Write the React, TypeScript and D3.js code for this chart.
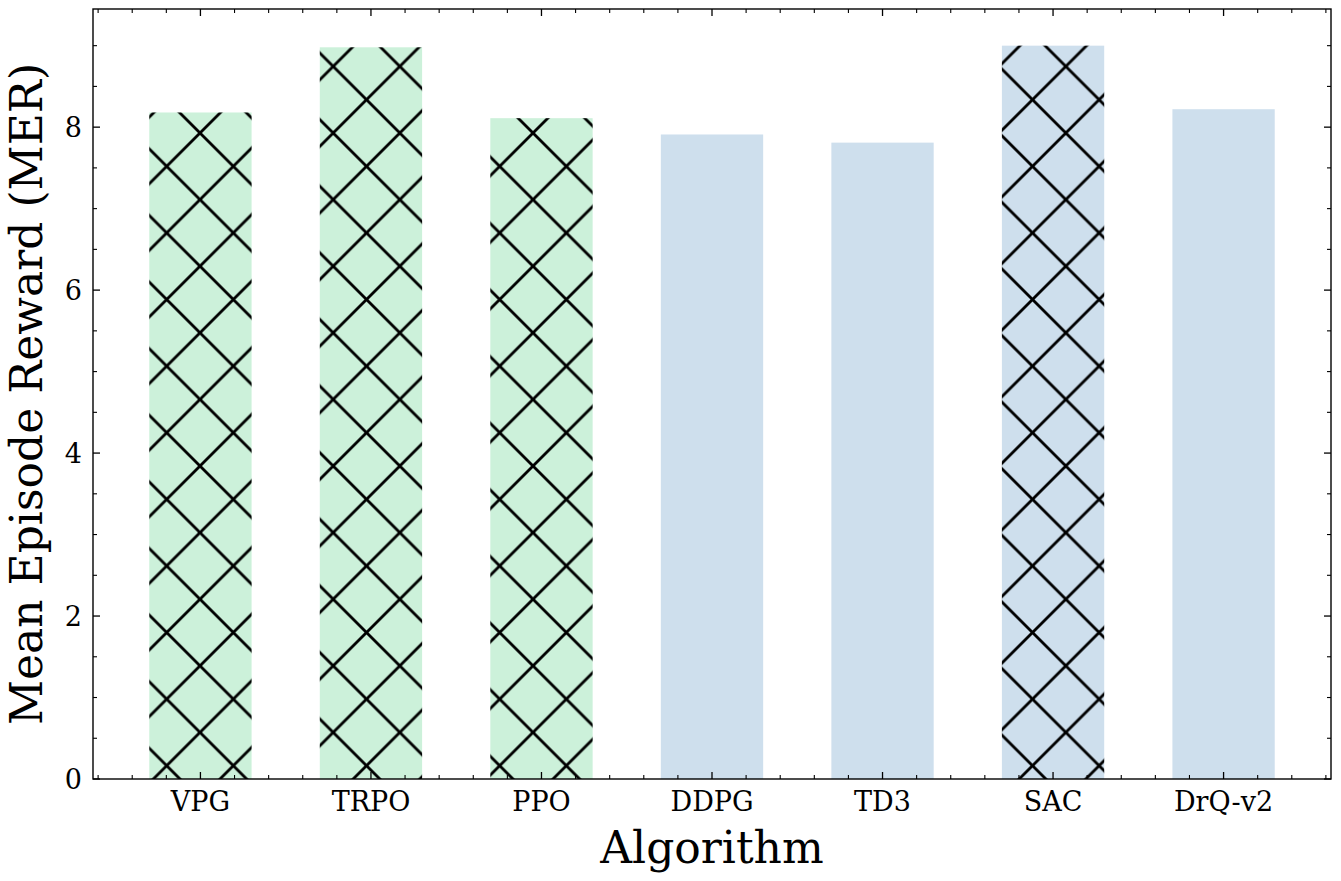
import React from "react";
import * as d3 from "d3";

const algorithms = ["VPG", "TRPO", "PPO", "DDPG", "TD3", "SAC", "DrQ-v2"];
const meanRewards = [8.18, 8.98, 8.11, 7.91, 7.81, 9.0, 8.22];
const policyType = ["on", "on", "on", "off", "off", "off", "off"];
const hatched = [true, true, true, false, false, true, false];
const yTicks = [0, 2, 4, 6, 8];

const W = 1341;
const H = 881;
const margin = { left: 93, right: 10, top: 9, bottom: 102 };
const BAR_W = 0.6;
const HATCH = 66.6;

const colors: Record<string, string> = { on: "#CCF1DA", off: "#CEDFED" };

const App: React.FC = () => {
  const x = d3
    .scaleLinear()
    .domain([-0.3 - 0.33, algorithms.length - 1 + 0.3 + 0.33])
    .range([margin.left, W - margin.right]);
  const y = d3
    .scaleLinear()
    .domain([0, 9.45])
    .range([H - margin.bottom, margin.top]);

  const [x0, x1] = x.range();
  const [yb, yt] = y.range();

  // minor ticks every 0.2 on x, every 0.5 on y (skip majors)
  const xMinor = d3
    .range(-3, Math.floor(x.domain()[1] * 5) + 1)
    .map((k) => k / 5)
    .filter((v) => Math.abs(v - Math.round(v)) > 1e-6);
  const yMinor = d3
    .range(0, 19)
    .map((k) => k / 2)
    .filter((v) => v % 2 !== 0);

  const font = "DejaVu Serif";
  const maj = 7;
  const min = 4;

  return (
    <svg
      width={W}
      height={H}
      style={{ position: "absolute", left: 0, top: 0, background: "#fff" }}
    >
      <defs>
        <pattern
          id="xhatch"
          patternUnits="userSpaceOnUse"
          x={200}
          y={133}
          width={HATCH}
          height={HATCH}
        >
          {[-1, 0, 1].map((k) => (
            <g key={k}>
              <line
                x1={-HATCH}
                y1={-HATCH + k * HATCH}
                x2={2 * HATCH}
                y2={2 * HATCH + k * HATCH}
                stroke="#000"
                strokeWidth={2.8}
              />
              <line
                x1={-HATCH}
                y1={2 * HATCH + k * HATCH}
                x2={2 * HATCH}
                y2={-HATCH + k * HATCH}
                stroke="#000"
                strokeWidth={2.8}
              />
            </g>
          ))}
        </pattern>
      </defs>

      {/* bars */}
      {algorithms.map((a, i) => {
        const bx = x(i - BAR_W / 2);
        const bw = x(i + BAR_W / 2) - bx;
        const by = y(meanRewards[i]);
        const bh = y(0) - by;
        return (
          <g key={a}>
            <rect x={bx} y={by} width={bw} height={bh} fill={colors[policyType[i]]} />
            {hatched[i] && (
              <rect x={bx} y={by} width={bw} height={bh} fill="url(#xhatch)" />
            )}
          </g>
        );
      })}

      {/* frame */}
      <rect
        x={x0}
        y={yt}
        width={x1 - x0}
        height={yb - yt}
        fill="none"
        stroke="#000"
        strokeWidth={1.4}
      />

      {/* x ticks */}
      {algorithms.map((a, i) => (
        <g key={"xt" + a}>
          <line x1={x(i)} x2={x(i)} y1={yb} y2={yb - maj} stroke="#000" strokeWidth={1.3} />
          <line x1={x(i)} x2={x(i)} y1={yt} y2={yt + maj} stroke="#000" strokeWidth={1.3} />
          <text
            x={x(i)}
            y={yb + 32}
            textAnchor="middle"
            fontFamily={font}
            fontSize={27}
          >
            {a}
          </text>
        </g>
      ))}
      {xMinor.map((v) => (
        <g key={"xm" + v}>
          <line x1={x(v)} x2={x(v)} y1={yb} y2={yb - min} stroke="#000" strokeWidth={1.1} />
          <line x1={x(v)} x2={x(v)} y1={yt} y2={yt + min} stroke="#000" strokeWidth={1.1} />
        </g>
      ))}

      {/* y ticks */}
      {yTicks.map((t) => (
        <g key={"yt" + t}>
          <line x1={x0} x2={x0 + maj} y1={y(t)} y2={y(t)} stroke="#000" strokeWidth={1.3} />
          <line x1={x1} x2={x1 - maj} y1={y(t)} y2={y(t)} stroke="#000" strokeWidth={1.3} />
          <text
            x={x0 - 11}
            y={y(t)}
            dy="0.36em"
            textAnchor="end"
            fontFamily={font}
            fontSize={27}
          >
            {t}
          </text>
        </g>
      ))}
      {yMinor.map((v) => (
        <g key={"ym" + v}>
          <line x1={x0} x2={x0 + min} y1={y(v)} y2={y(v)} stroke="#000" strokeWidth={1.1} />
          <line x1={x1} x2={x1 - min} y1={y(v)} y2={y(v)} stroke="#000" strokeWidth={1.1} />
        </g>
      ))}

      {/* axis labels */}
      <text
        x={(x0 + x1) / 2}
        y={863}
        textAnchor="middle"
        fontFamily={font}
        fontSize={44}
      >
        Algorithm
      </text>
      <text
        transform={`translate(42, ${(yb + yt) / 2}) rotate(-90)`}
        textAnchor="middle"
        fontFamily={font}
        fontSize={44}
      >
        Mean Episode Reward (MER)
      </text>
    </svg>
  );
};

export default App;
